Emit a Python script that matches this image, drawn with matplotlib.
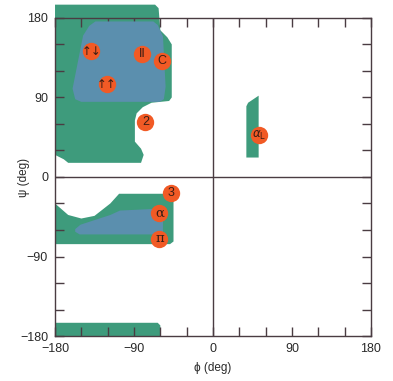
import numpy as np
import matplotlib.pyplot as plt
from matplotlib.patches import Polygon

plt.rcParams['font.family'] = ['Liberation Sans', 'DejaVu Sans']

# allowed region outlines (phi, psi) in degrees
green_beta = [(-180, 195), (-66, 195), (-62, 191), (-60, 166), (-52, 158), (-47, 150),
              (-47, 90), (-50, 86), (-70, 84), (-80, 79), (-87, 72), (-89, 64),
              (-89, 40), (-82, 32), (-79, 25), (-82, 16), (-165, 16), (-170, 20),
              (-180, 25)]
blue_beta = [(-134, 176), (-68, 176), (-63, 172), (-57, 159), (-54, 102), (-56, 88),
             (-61, 85), (-150, 85), (-157, 88), (-160, 100), (-148, 160), (-141, 171)]
green_alpha = [(-180, -30), (-165, -43), (-150, -47), (-135, -44), (-117, -30),
               (-107, -19), (-45, -19), (-45, -73), (-49, -76), (-180, -76)]
blue_alpha = [(-157, -59), (-151, -54), (-117, -43), (-106, -38), (-64, -36),
              (-57, -40), (-57, -64), (-60, -65), (-152, -65), (-157, -62)]
green_bottom = [(-180, -165), (-63, -165), (-60, -168), (-60, -180), (-180, -180)]
green_alphaL = [(38, 80), (40, 84), (46, 88), (52, 92), (52, 22), (38, 22)]

# labelled conformations
conf_phi = [-139, -81, -58, -121, -77, -48, -61, -61, 52]
conf_psi = [142, 139, 131, 105, 62, -18, -41, -70, 47]
conf_txt = ['↑↓', 'II', 'C', '↑↑', '2', '3', 'α', 'π', r'$\alpha_{\rm L}$']

green = '#3e9b7c'
blue = '#5b8fae'
orange = '#f15a25'
ink = '#4a3c42'

fig = plt.figure(figsize=(3.93, 3.81), dpi=100)
ax = fig.add_axes([0.14, 0.118, 0.804, 0.835])

for pts in [green_beta, green_alpha, green_bottom, green_alphaL]:
    ax.add_patch(Polygon(pts, closed=True, fc=green, ec='none', clip_on=False, zorder=1))
for pts in [blue_beta, blue_alpha]:
    ax.add_patch(Polygon(pts, closed=True, fc=blue, ec='none', clip_on=False, zorder=2))

ax.axhline(0, color=ink, lw=1, zorder=3)
ax.axvline(0, color=ink, lw=1, zorder=3)

ax.plot(conf_phi, conf_psi, 'o', ms=12.5, color=orange, mec='none', zorder=4, clip_on=False)
for x, y, t in zip(conf_phi, conf_psi, conf_txt):
    if t in ('↑↓', '↑↑'):
        fs, fam = 8.5, ['DejaVu Sans']
    elif t in ('α', 'π'):
        fs, fam = 9.5, ['DejaVu Serif']
    elif t.startswith('$'):
        fs, fam = 8.5, ['DejaVu Sans']
    else:
        fs, fam = 9, ['Liberation Sans']
    ax.text(x, y, t, ha='center', va='center', fontsize=fs, color='#3a1d14',
            family=fam, zorder=5)

ax.set_xlim(-180, 180)
ax.set_ylim(-180, 180)
ticks = [-180, -90, 0, 90, 180]
tlabels = ['\u2212180', '\u221290', '0', '90', '180']
ax.set_xticks(ticks)
ax.set_yticks(ticks)
ax.set_xticklabels(tlabels)
ax.set_yticklabels(tlabels)
ax.set_xticks(np.arange(-150, 180, 30), minor=True)
ax.set_yticks(np.arange(-150, 180, 30), minor=True)
ax.tick_params(which='both', direction='in', top=True, right=True, color=ink,
               length=6.5, width=1, labelsize=9, labelcolor='#2a2a2a', pad=5)
for s in ax.spines.values():
    s.set_color(ink)
    s.set_linewidth(1)

ax.set_xlabel('ϕ (deg)', fontsize=8.5, color='#2a2a2a')
ax.set_ylabel('ψ (deg)', fontsize=8.5, color='#2a2a2a')
ax.xaxis.set_label_coords(0.5, -0.083)
ax.yaxis.set_label_coords(-0.08, 0.5)

fig.savefig('out.png', dpi=100)
